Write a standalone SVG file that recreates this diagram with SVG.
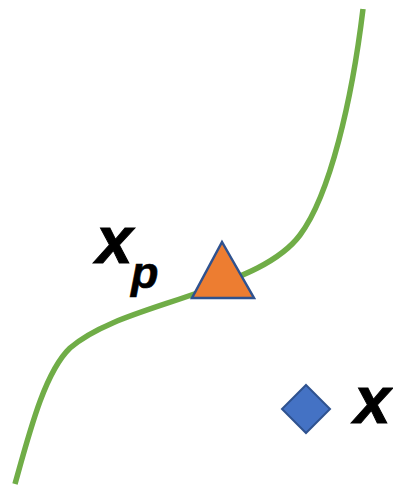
<svg xmlns="http://www.w3.org/2000/svg" width="393" height="487" viewBox="0 0 393 487">
<style>
.lbl{font-family:"Liberation Sans",Arial,sans-serif;font-weight:bold;font-style:italic;fill:#000}
</style>
<rect width="393" height="487" fill="#fff"/>
<g id="connectors">
<path id="curve" d="M15,484 C30,430 45,372 70,348 C100,322 150,310 200,292 C240,277 280,262 300,235 C330,195 352,100 363,9" fill="none" stroke="#70AD47" stroke-width="5.5"/>
</g>
<g id="xp-node">
<polygon points="222,242 192,298 254,298" fill="#ED7D31" stroke="#2F528F" stroke-width="2.5" stroke-linejoin="miter"/>
<text class="lbl" x="96" y="263" font-size="66" stroke="#000" stroke-width="1">x</text>
<text class="lbl" x="131" y="288" font-size="45" stroke="#000" stroke-width="0.6">p</text>
</g>
<g id="x-node">
<polygon points="306,385 330,409 306,433 282,409" fill="#4472C4" stroke="#2F528F" stroke-width="2"/>
<text class="lbl" x="354" y="423" font-size="66" stroke="#000" stroke-width="1">x</text>
</g>
</svg>
